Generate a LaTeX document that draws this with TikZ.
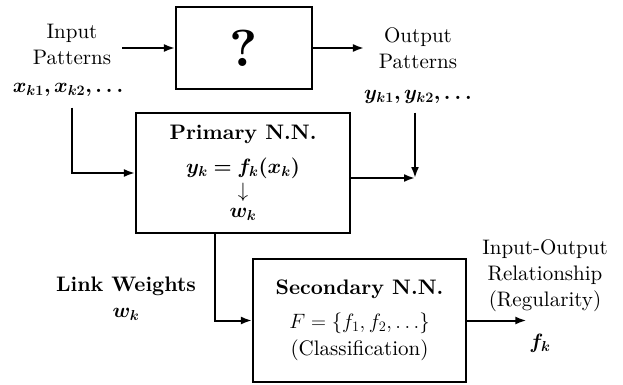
\documentclass[tikz,border=0pt]{standalone}
\usepackage{fontspec}
\setmainfont{lmroman10}[Extension=.otf, UprightFont=*-regular, BoldFont=*-bold,
    ItalicFont=*-italic, BoldItalicFont=*-bolditalic]
\usepackage{bm}
\usetikzlibrary{arrows.meta}
\begin{document}
\begin{tikzpicture}[x=1pt, y=-1pt, >={Latex[length=11pt,width=8pt]},
    font=\fontsize{21}{26}\selectfont,
    box/.style={draw, line width=2.2pt, inner sep=0pt},
    lbl/.style={align=center, inner sep=2pt},
    every path/.style={line width=2pt}]
    \useasboundingbox (0,0) rectangle (623,385);
    \node[box, minimum width=136pt, minimum height=82pt] (quest) at (244,48) {\fontsize{52}{52}\selectfont\bfseries ?};
    \node[box, minimum width=214pt, minimum height=120pt, align=center] (prim) at (243,173)
        {\textbf{Primary N.N.}\\[8pt] $\bm{y_k = f_k(x_k)}$\\[-2pt] $\downarrow$\\[-6pt] $\bm{w_k}$};
    \node[box, minimum width=213pt, minimum height=123pt, align=center] (sec) at (359.5,320.5)
        {\textbf{Secondary N.N.}\\[8pt] $F = \{f_1, f_2, \ldots\}$\\[1pt] (Classification)};
    \node[lbl] (inlab) at (72,44) {Input\\Patterns};
    \node[lbl] (xin) at (68,90) {$\bm{x_{k1}, x_{k2}, \ldots}$};
    \node[lbl] (outlab) at (418,48) {Output\\Patterns};
    \node[lbl] (yout) at (418,97) {$\bm{y_{k1}, y_{k2}, \ldots}$};
    \node[lbl] (link) at (126,299) {\textbf{Link Weights}\\ $\bm{w_k}$};
    \node[lbl] (rel) at (545,276) {Input-Output\\Relationship\\(Regularity)};
    \node[lbl] (fk) at (540,343) {$\bm{f_k}$};
    \coordinate (join) at (415,178);
    % top row
    \draw[->] ([xshift=8pt]inlab.east |- quest.west) -- (quest.west);
    \draw[->] (quest.east) -- ([xshift=-12pt]outlab.west |- quest.east);
    % into and out of the primary net
    \draw[->] ([xshift=4pt,yshift=-8pt]xin.south) |- (prim.west);
    \draw[->] (prim.east |- join) -- (join);
    \draw[->] ([yshift=-6pt]join |- yout.south) -- (join);
    % weights to the secondary net
    \draw[->] ([xshift=-28pt]prim.south) |- (sec.west);
    \draw[->] (sec.east) -- (fk.west |- sec.east);
\end{tikzpicture}
\end{document}
